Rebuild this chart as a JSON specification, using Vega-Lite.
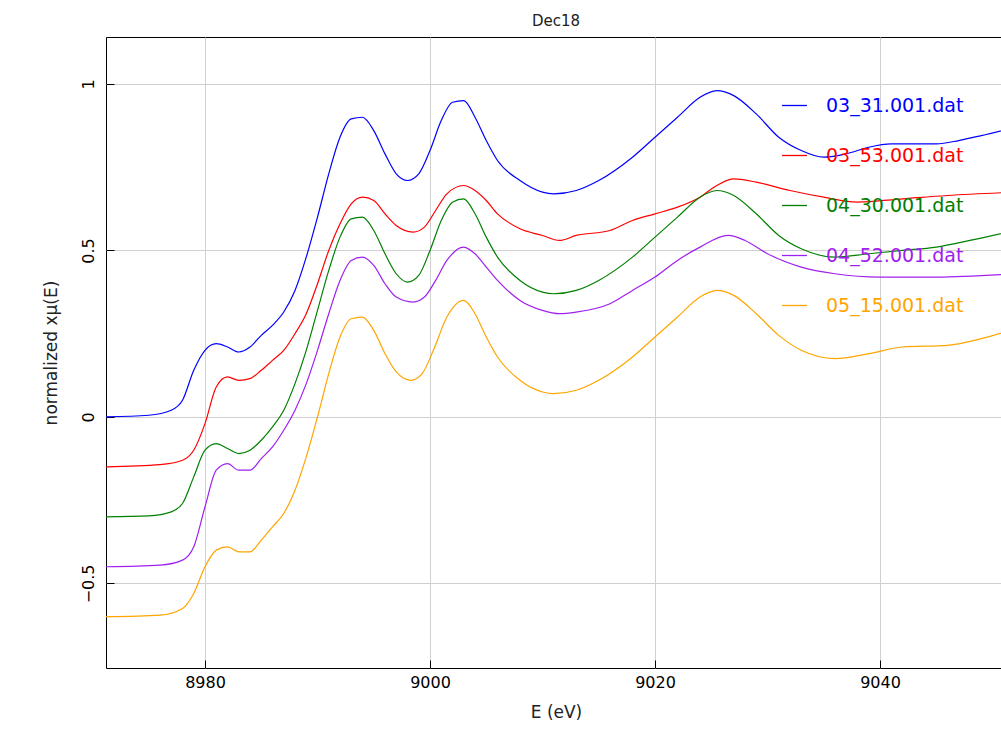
{
  "$schema": "https://vega.github.io/schema/vega-lite/v6.json",
  "width": 900,
  "height": 631,
  "autosize": "none",
  "padding": {"left": 106, "top": 37, "right": 0, "bottom": 80},
  "config": {
    "font": "DejaVu Sans",
    "view": {"stroke": "black", "strokeWidth": 1},
    "axis": {"gridColor": "#d0d0d0", "gridOpacity": 1, "domain": false, "tickColor": "black", "labelColor": "black", "titleColor": "#222", "labelFontSize": 16, "titleFontSize": 17, "titleFontWeight": "normal"}
  },
  "title": {"text": "Dec18", "fontSize": 15, "fontWeight": "normal", "offset": 8, "color": "#222"},
  "data": {"values": [
    {"s":"03_31.001.dat","E":8971,"mu":0.0},{"s":"03_31.001.dat","E":8975,"mu":0.005},{"s":"03_31.001.dat","E":8977,"mu":0.02},{"s":"03_31.001.dat","E":8978,"mu":0.05},{"s":"03_31.001.dat","E":8979,"mu":0.14},{"s":"03_31.001.dat","E":8980,"mu":0.2},{"s":"03_31.001.dat","E":8981,"mu":0.22},{"s":"03_31.001.dat","E":8982,"mu":0.21},{"s":"03_31.001.dat","E":8983,"mu":0.195},{"s":"03_31.001.dat","E":8984,"mu":0.21},{"s":"03_31.001.dat","E":8985,"mu":0.245},{"s":"03_31.001.dat","E":8986,"mu":0.275},{"s":"03_31.001.dat","E":8987,"mu":0.315},{"s":"03_31.001.dat","E":8988,"mu":0.38},{"s":"03_31.001.dat","E":8989,"mu":0.48},{"s":"03_31.001.dat","E":8990,"mu":0.6},{"s":"03_31.001.dat","E":8991,"mu":0.73},{"s":"03_31.001.dat","E":8992,"mu":0.84},{"s":"03_31.001.dat","E":8993,"mu":0.895},{"s":"03_31.001.dat","E":8994,"mu":0.9},{"s":"03_31.001.dat","E":8995,"mu":0.86},{"s":"03_31.001.dat","E":8996,"mu":0.79},{"s":"03_31.001.dat","E":8997,"mu":0.73},{"s":"03_31.001.dat","E":8998,"mu":0.71},{"s":"03_31.001.dat","E":8999,"mu":0.73},{"s":"03_31.001.dat","E":9000,"mu":0.8},{"s":"03_31.001.dat","E":9001,"mu":0.89},{"s":"03_31.001.dat","E":9002,"mu":0.945},{"s":"03_31.001.dat","E":9003,"mu":0.95},{"s":"03_31.001.dat","E":9004,"mu":0.9},{"s":"03_31.001.dat","E":9005,"mu":0.83},{"s":"03_31.001.dat","E":9006,"mu":0.77},{"s":"03_31.001.dat","E":9008,"mu":0.71},{"s":"03_31.001.dat","E":9010,"mu":0.675},{"s":"03_31.001.dat","E":9011,"mu":0.67},{"s":"03_31.001.dat","E":9013,"mu":0.68},{"s":"03_31.001.dat","E":9015,"mu":0.71},{"s":"03_31.001.dat","E":9018,"mu":0.78},{"s":"03_31.001.dat","E":9020,"mu":0.84},{"s":"03_31.001.dat","E":9022,"mu":0.9},{"s":"03_31.001.dat","E":9024,"mu":0.96},{"s":"03_31.001.dat","E":9025.5,"mu":0.98},{"s":"03_31.001.dat","E":9027,"mu":0.965},{"s":"03_31.001.dat","E":9029,"mu":0.91},{"s":"03_31.001.dat","E":9031,"mu":0.84},{"s":"03_31.001.dat","E":9033,"mu":0.8},{"s":"03_31.001.dat","E":9035,"mu":0.78},{"s":"03_31.001.dat","E":9037,"mu":0.79},{"s":"03_31.001.dat","E":9039,"mu":0.81},{"s":"03_31.001.dat","E":9041,"mu":0.82},{"s":"03_31.001.dat","E":9045,"mu":0.82},{"s":"03_31.001.dat","E":9047,"mu":0.83},{"s":"03_31.001.dat","E":9049,"mu":0.845},{"s":"03_31.001.dat","E":9052,"mu":0.87},

    {"s":"03_53.001.dat","E":8971,"mu":-0.15},{"s":"03_53.001.dat","E":8976,"mu":-0.143},{"s":"03_53.001.dat","E":8978,"mu":-0.13},{"s":"03_53.001.dat","E":8979,"mu":-0.1},{"s":"03_53.001.dat","E":8980,"mu":-0.02},{"s":"03_53.001.dat","E":8981,"mu":0.09},{"s":"03_53.001.dat","E":8982,"mu":0.12},{"s":"03_53.001.dat","E":8983,"mu":0.11},{"s":"03_53.001.dat","E":8984,"mu":0.115},{"s":"03_53.001.dat","E":8985,"mu":0.14},{"s":"03_53.001.dat","E":8986,"mu":0.17},{"s":"03_53.001.dat","E":8987,"mu":0.2},{"s":"03_53.001.dat","E":8988,"mu":0.25},{"s":"03_53.001.dat","E":8989,"mu":0.31},{"s":"03_53.001.dat","E":8990,"mu":0.4},{"s":"03_53.001.dat","E":8991,"mu":0.5},{"s":"03_53.001.dat","E":8992,"mu":0.58},{"s":"03_53.001.dat","E":8993,"mu":0.64},{"s":"03_53.001.dat","E":8994,"mu":0.66},{"s":"03_53.001.dat","E":8995,"mu":0.65},{"s":"03_53.001.dat","E":8996,"mu":0.61},{"s":"03_53.001.dat","E":8997,"mu":0.575},{"s":"03_53.001.dat","E":8998.5,"mu":0.555},{"s":"03_53.001.dat","E":8999.5,"mu":0.57},{"s":"03_53.001.dat","E":9000.5,"mu":0.62},{"s":"03_53.001.dat","E":9001.5,"mu":0.67},{"s":"03_53.001.dat","E":9003,"mu":0.695},{"s":"03_53.001.dat","E":9004,"mu":0.68},{"s":"03_53.001.dat","E":9005,"mu":0.65},{"s":"03_53.001.dat","E":9006,"mu":0.61},{"s":"03_53.001.dat","E":9008,"mu":0.565},{"s":"03_53.001.dat","E":9010,"mu":0.545},{"s":"03_53.001.dat","E":9011.5,"mu":0.53},{"s":"03_53.001.dat","E":9013,"mu":0.545},{"s":"03_53.001.dat","E":9016,"mu":0.56},{"s":"03_53.001.dat","E":9018,"mu":0.59},{"s":"03_53.001.dat","E":9020,"mu":0.61},{"s":"03_53.001.dat","E":9022,"mu":0.63},{"s":"03_53.001.dat","E":9024,"mu":0.66},{"s":"03_53.001.dat","E":9025.5,"mu":0.695},{"s":"03_53.001.dat","E":9027,"mu":0.715},{"s":"03_53.001.dat","E":9029,"mu":0.705},{"s":"03_53.001.dat","E":9032,"mu":0.68},{"s":"03_53.001.dat","E":9035,"mu":0.66},{"s":"03_53.001.dat","E":9038,"mu":0.645},{"s":"03_53.001.dat","E":9042,"mu":0.655},{"s":"03_53.001.dat","E":9046,"mu":0.665},{"s":"03_53.001.dat","E":9052,"mu":0.675},

    {"s":"04_30.001.dat","E":8971,"mu":-0.3},{"s":"04_30.001.dat","E":8975,"mu":-0.297},{"s":"04_30.001.dat","E":8977,"mu":-0.285},{"s":"04_30.001.dat","E":8978,"mu":-0.26},{"s":"04_30.001.dat","E":8979,"mu":-0.18},{"s":"04_30.001.dat","E":8980,"mu":-0.1},{"s":"04_30.001.dat","E":8981,"mu":-0.08},{"s":"04_30.001.dat","E":8982,"mu":-0.095},{"s":"04_30.001.dat","E":8983,"mu":-0.11},{"s":"04_30.001.dat","E":8984,"mu":-0.1},{"s":"04_30.001.dat","E":8985,"mu":-0.07},{"s":"04_30.001.dat","E":8986,"mu":-0.03},{"s":"04_30.001.dat","E":8987,"mu":0.02},{"s":"04_30.001.dat","E":8988,"mu":0.1},{"s":"04_30.001.dat","E":8989,"mu":0.2},{"s":"04_30.001.dat","E":8990,"mu":0.32},{"s":"04_30.001.dat","E":8991,"mu":0.44},{"s":"04_30.001.dat","E":8992,"mu":0.54},{"s":"04_30.001.dat","E":8993,"mu":0.595},{"s":"04_30.001.dat","E":8994,"mu":0.6},{"s":"04_30.001.dat","E":8995,"mu":0.56},{"s":"04_30.001.dat","E":8996,"mu":0.49},{"s":"04_30.001.dat","E":8997,"mu":0.43},{"s":"04_30.001.dat","E":8998,"mu":0.405},{"s":"04_30.001.dat","E":8999,"mu":0.425},{"s":"04_30.001.dat","E":9000,"mu":0.5},{"s":"04_30.001.dat","E":9001,"mu":0.59},{"s":"04_30.001.dat","E":9002,"mu":0.645},{"s":"04_30.001.dat","E":9003,"mu":0.655},{"s":"04_30.001.dat","E":9004,"mu":0.61},{"s":"04_30.001.dat","E":9005,"mu":0.54},{"s":"04_30.001.dat","E":9006,"mu":0.48},{"s":"04_30.001.dat","E":9008,"mu":0.41},{"s":"04_30.001.dat","E":9010,"mu":0.375},{"s":"04_30.001.dat","E":9011,"mu":0.37},{"s":"04_30.001.dat","E":9013,"mu":0.38},{"s":"04_30.001.dat","E":9015,"mu":0.41},{"s":"04_30.001.dat","E":9018,"mu":0.48},{"s":"04_30.001.dat","E":9020,"mu":0.54},{"s":"04_30.001.dat","E":9022,"mu":0.6},{"s":"04_30.001.dat","E":9024,"mu":0.66},{"s":"04_30.001.dat","E":9025.5,"mu":0.68},{"s":"04_30.001.dat","E":9027,"mu":0.665},{"s":"04_30.001.dat","E":9029,"mu":0.61},{"s":"04_30.001.dat","E":9031,"mu":0.545},{"s":"04_30.001.dat","E":9033,"mu":0.505},{"s":"04_30.001.dat","E":9036,"mu":0.48},{"s":"04_30.001.dat","E":9039,"mu":0.49},{"s":"04_30.001.dat","E":9042,"mu":0.5},{"s":"04_30.001.dat","E":9045,"mu":0.51},{"s":"04_30.001.dat","E":9048,"mu":0.53},{"s":"04_30.001.dat","E":9052,"mu":0.56},

    {"s":"04_52.001.dat","E":8971,"mu":-0.45},{"s":"04_52.001.dat","E":8976,"mu":-0.445},{"s":"04_52.001.dat","E":8978,"mu":-0.43},{"s":"04_52.001.dat","E":8979,"mu":-0.39},{"s":"04_52.001.dat","E":8980,"mu":-0.27},{"s":"04_52.001.dat","E":8981,"mu":-0.16},{"s":"04_52.001.dat","E":8982,"mu":-0.14},{"s":"04_52.001.dat","E":8983,"mu":-0.16},{"s":"04_52.001.dat","E":8984,"mu":-0.16},{"s":"04_52.001.dat","E":8985,"mu":-0.125},{"s":"04_52.001.dat","E":8986,"mu":-0.09},{"s":"04_52.001.dat","E":8987,"mu":-0.04},{"s":"04_52.001.dat","E":8988,"mu":0.02},{"s":"04_52.001.dat","E":8989,"mu":0.1},{"s":"04_52.001.dat","E":8990,"mu":0.2},{"s":"04_52.001.dat","E":8991,"mu":0.31},{"s":"04_52.001.dat","E":8992,"mu":0.41},{"s":"04_52.001.dat","E":8993,"mu":0.47},{"s":"04_52.001.dat","E":8994,"mu":0.48},{"s":"04_52.001.dat","E":8995,"mu":0.455},{"s":"04_52.001.dat","E":8996,"mu":0.4},{"s":"04_52.001.dat","E":8997,"mu":0.36},{"s":"04_52.001.dat","E":8998.5,"mu":0.345},{"s":"04_52.001.dat","E":8999.5,"mu":0.36},{"s":"04_52.001.dat","E":9000.5,"mu":0.41},{"s":"04_52.001.dat","E":9001.5,"mu":0.47},{"s":"04_52.001.dat","E":9003,"mu":0.51},{"s":"04_52.001.dat","E":9004,"mu":0.49},{"s":"04_52.001.dat","E":9005,"mu":0.45},{"s":"04_52.001.dat","E":9006,"mu":0.41},{"s":"04_52.001.dat","E":9008,"mu":0.35},{"s":"04_52.001.dat","E":9010,"mu":0.32},{"s":"04_52.001.dat","E":9011.5,"mu":0.31},{"s":"04_52.001.dat","E":9013,"mu":0.315},{"s":"04_52.001.dat","E":9016,"mu":0.34},{"s":"04_52.001.dat","E":9018,"mu":0.38},{"s":"04_52.001.dat","E":9020,"mu":0.42},{"s":"04_52.001.dat","E":9022,"mu":0.47},{"s":"04_52.001.dat","E":9024,"mu":0.51},{"s":"04_52.001.dat","E":9026.5,"mu":0.545},{"s":"04_52.001.dat","E":9028,"mu":0.53},{"s":"04_52.001.dat","E":9030,"mu":0.49},{"s":"04_52.001.dat","E":9033,"mu":0.45},{"s":"04_52.001.dat","E":9036,"mu":0.43},{"s":"04_52.001.dat","E":9040,"mu":0.42},{"s":"04_52.001.dat","E":9045,"mu":0.42},{"s":"04_52.001.dat","E":9052,"mu":0.43},

    {"s":"05_15.001.dat","E":8971,"mu":-0.6},{"s":"05_15.001.dat","E":8976,"mu":-0.595},{"s":"05_15.001.dat","E":8978,"mu":-0.575},{"s":"05_15.001.dat","E":8979,"mu":-0.53},{"s":"05_15.001.dat","E":8980,"mu":-0.45},{"s":"05_15.001.dat","E":8981,"mu":-0.4},{"s":"05_15.001.dat","E":8982,"mu":-0.39},{"s":"05_15.001.dat","E":8983,"mu":-0.405},{"s":"05_15.001.dat","E":8984,"mu":-0.405},{"s":"05_15.001.dat","E":8985,"mu":-0.37},{"s":"05_15.001.dat","E":8986,"mu":-0.33},{"s":"05_15.001.dat","E":8987,"mu":-0.29},{"s":"05_15.001.dat","E":8988,"mu":-0.22},{"s":"05_15.001.dat","E":8989,"mu":-0.12},{"s":"05_15.001.dat","E":8990,"mu":0.0},{"s":"05_15.001.dat","E":8991,"mu":0.13},{"s":"05_15.001.dat","E":8992,"mu":0.24},{"s":"05_15.001.dat","E":8993,"mu":0.295},{"s":"05_15.001.dat","E":8994,"mu":0.3},{"s":"05_15.001.dat","E":8995,"mu":0.26},{"s":"05_15.001.dat","E":8996,"mu":0.19},{"s":"05_15.001.dat","E":8997,"mu":0.135},{"s":"05_15.001.dat","E":8998.3,"mu":0.11},{"s":"05_15.001.dat","E":8999.3,"mu":0.13},{"s":"05_15.001.dat","E":9000.3,"mu":0.2},{"s":"05_15.001.dat","E":9001.5,"mu":0.3},{"s":"05_15.001.dat","E":9003,"mu":0.35},{"s":"05_15.001.dat","E":9004,"mu":0.31},{"s":"05_15.001.dat","E":9005,"mu":0.24},{"s":"05_15.001.dat","E":9006,"mu":0.18},{"s":"05_15.001.dat","E":9008,"mu":0.11},{"s":"05_15.001.dat","E":9010,"mu":0.075},{"s":"05_15.001.dat","E":9011,"mu":0.07},{"s":"05_15.001.dat","E":9013,"mu":0.08},{"s":"05_15.001.dat","E":9015,"mu":0.11},{"s":"05_15.001.dat","E":9018,"mu":0.18},{"s":"05_15.001.dat","E":9020,"mu":0.24},{"s":"05_15.001.dat","E":9022,"mu":0.3},{"s":"05_15.001.dat","E":9024,"mu":0.36},{"s":"05_15.001.dat","E":9025.5,"mu":0.38},{"s":"05_15.001.dat","E":9027,"mu":0.365},{"s":"05_15.001.dat","E":9029,"mu":0.31},{"s":"05_15.001.dat","E":9031,"mu":0.245},{"s":"05_15.001.dat","E":9033,"mu":0.2},{"s":"05_15.001.dat","E":9036,"mu":0.175},{"s":"05_15.001.dat","E":9039,"mu":0.19},{"s":"05_15.001.dat","E":9042,"mu":0.21},{"s":"05_15.001.dat","E":9046,"mu":0.215},{"s":"05_15.001.dat","E":9049,"mu":0.235},{"s":"05_15.001.dat","E":9052,"mu":0.265}
  ]},
  "mark": {"type": "line", "strokeWidth": 1.2, "interpolate": "monotone", "clip": true},
  "encoding": {
    "x": {"field": "E", "type": "quantitative", "title": "E (eV)",
      "scale": {"domain": [8971.2, 9051.2], "nice": false, "zero": false},
      "axis": {"values": [8980, 9000, 9020, 9040], "format": "d", "tickSize": -8, "labelPadding": 14, "titlePadding": 14}},
    "y": {"field": "mu", "type": "quantitative", "title": "normalized xμ(E)",
      "scale": {"domain": [-0.754, 1.141], "nice": false, "zero": false},
      "axis": {"values": [-0.5, 0, 0.5, 1], "format": "~g", "tickSize": -8, "labelAngle": -90, "labelAlign": "center", "labelBaseline": "bottom", "labelPadding": 18, "titlePadding": 20}},
    "color": {"field": "s", "type": "nominal",
      "scale": {"domain": ["03_31.001.dat", "03_53.001.dat", "04_30.001.dat", "04_52.001.dat", "05_15.001.dat"], "range": ["#0000ff", "#ff0000", "#008000", "#a020f0", "#ffa500"]},
      "legend": {"title": null, "orient": "none", "legendX": 675, "legendY": 55, "symbolType": "stroke", "symbolSize": 625, "symbolStrokeWidth": 1.3, "labelFontSize": 19, "labelOffset": 18, "rowPadding": 26, "labelLimit": 400,
        "encode": {"labels": {"update": {"fill": {"scale": "color", "field": "value"}}}}}}
  }
}
